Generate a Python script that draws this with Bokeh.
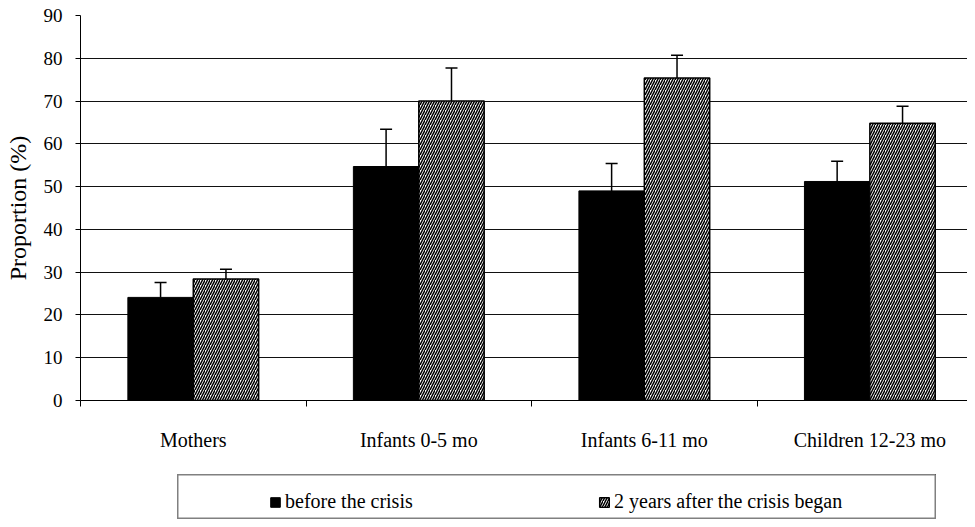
from bokeh.plotting import figure
from bokeh.models import (ColumnDataSource, Range1d, FixedTicker, Whisker, TeeHead,
                          Legend, LegendItem, Spacer)
from bokeh.layouts import column, row
from bokeh.embed import file_html
from bokeh.resources import INLINE

# ---- data ----
categories = ["Mothers", "Infants 0-5 mo", "Infants 6-11 mo", "Children 12-23 mo"]
before = [24.1, 54.7, 49.0, 51.2]
after = [28.4, 70.0, 75.4, 64.8]
err_before = [3.5, 8.7, 6.4, 4.7]
err_after = [2.3, 7.7, 5.3, 4.0]
series_labels = ["before the crisis", "2 years after the crisis began"]
y_ticks = [0, 10, 20, 30, 40, 50, 60, 70, 80, 90]

FONT = "Liberation Serif"
centers = [i + 0.5 for i in range(len(categories))]
bounds = list(range(len(categories) + 1))
dodge = 0.145
bar_w = 0.29

black_style = dict(fill_color="black", line_color="black", line_width=1)
hatch_style = dict(fill_color="white", line_color="black", line_width=1.5,
                   hatch_pattern="/", hatch_color="black", hatch_scale=5, hatch_weight=1.5)

src_b = ColumnDataSource(dict(
    x=[c - dodge for c in centers], top=before,
    upper=[v + e for v, e in zip(before, err_before)]))
src_a = ColumnDataSource(dict(
    x=[c + dodge for c in centers], top=after,
    upper=[v + e for v, e in zip(after, err_after)]))

p = figure(width=967, height=474,
           x_range=Range1d(0, 3.933), y_range=Range1d(0, 90),
           output_backend="svg", toolbar_location=None,
           min_border_left=80, min_border_right=0,
           min_border_top=15, min_border_bottom=74)
p.outline_line_color = None
p.background_fill_color = "white"
p.border_fill_color = "white"

p.xgrid.visible = False
p.ygrid.ticker = FixedTicker(ticks=y_ticks)
p.ygrid.grid_line_color = "#111111"
p.ygrid.grid_line_width = 1

# y axis
p.yaxis.ticker = FixedTicker(ticks=y_ticks)
p.yaxis.axis_label = "Proportion (%)"
p.yaxis.axis_label_text_font = FONT
p.yaxis.axis_label_text_font_size = "24px"
p.yaxis.axis_label_text_font_style = "normal"
p.yaxis.axis_label_text_color = "black"
p.yaxis.axis_label_standoff = 10
p.yaxis.major_label_text_font = FONT
p.yaxis.major_label_text_font_size = "19px"
p.yaxis.major_label_text_color = "black"
p.yaxis.major_label_standoff = 13
p.yaxis.major_tick_out = 5
p.yaxis.major_tick_in = 0
p.yaxis.minor_tick_out = 0
p.yaxis.minor_tick_in = 0
p.yaxis.axis_line_color = "black"
p.yaxis.major_tick_line_color = "black"

# x axis: labels at category centres, ticks at category boundaries
p.xaxis.ticker = FixedTicker(ticks=centers, minor_ticks=bounds)
p.xaxis.major_label_overrides = {c: name for c, name in zip(centers, categories)}
p.xaxis.major_label_text_font = FONT
p.xaxis.major_label_text_font_size = "20px"
p.xaxis.major_label_text_color = "black"
p.xaxis.major_label_standoff = 22
p.xaxis.major_tick_out = 0
p.xaxis.major_tick_in = 0
p.xaxis.minor_tick_out = 6
p.xaxis.minor_tick_in = 0
p.xaxis.minor_tick_line_color = "black"
p.xaxis.axis_line_color = "black"

# bars
r1 = p.vbar(x="x", top="top", width=bar_w, source=src_b, **black_style)
r2 = p.vbar(x="x", top="top", width=bar_w, source=src_a, **hatch_style)

# error bars (upper only)
for src in (src_b, src_a):
    w = Whisker(source=src, base="x", lower="top", upper="upper", dimension="height",
                line_color="black", line_width=1.5,
                upper_head=TeeHead(size=12, line_color="black", line_width=1.5),
                lower_head=None)
    p.add_layout(w)

# legend box as a small separate figure below the chart; its renderers reuse the
# same data but the ranges keep them out of view, so only the legend shows
lf = figure(width=759, height=45, x_range=Range1d(-2, -1), y_range=Range1d(-2, -1),
            x_axis_type=None, y_axis_type=None,
            output_backend="svg", toolbar_location=None,
            min_border=0, min_border_left=0, min_border_right=0,
            min_border_top=0, min_border_bottom=0)
lf.outline_line_color = "#808080"
lf.outline_line_width = 2
lf.xgrid.visible = False
lf.ygrid.visible = False
lr1 = lf.vbar(x="x", top="top", width=bar_w, source=src_b, **black_style)
lr2 = lf.vbar(x="x", top="top", width=bar_w, source=src_a, **hatch_style)

leg = Legend(items=[LegendItem(label=series_labels[0], renderers=[lr1]),
                    LegendItem(label=series_labels[1], renderers=[lr2])],
             location=(92, 6), orientation="horizontal",
             padding=0, spacing=12, margin=0,
             glyph_width=12, glyph_height=12,
             label_standoff=4, label_width=301,
             border_line_alpha=0, background_fill_alpha=0,
             label_text_font=FONT, label_text_font_size="20px",
             label_text_color="black")
lf.add_layout(leg)

layout = column(p, row(Spacer(width=177, height=45), lf))

open("out.html", "w").write(file_html(layout, INLINE))
